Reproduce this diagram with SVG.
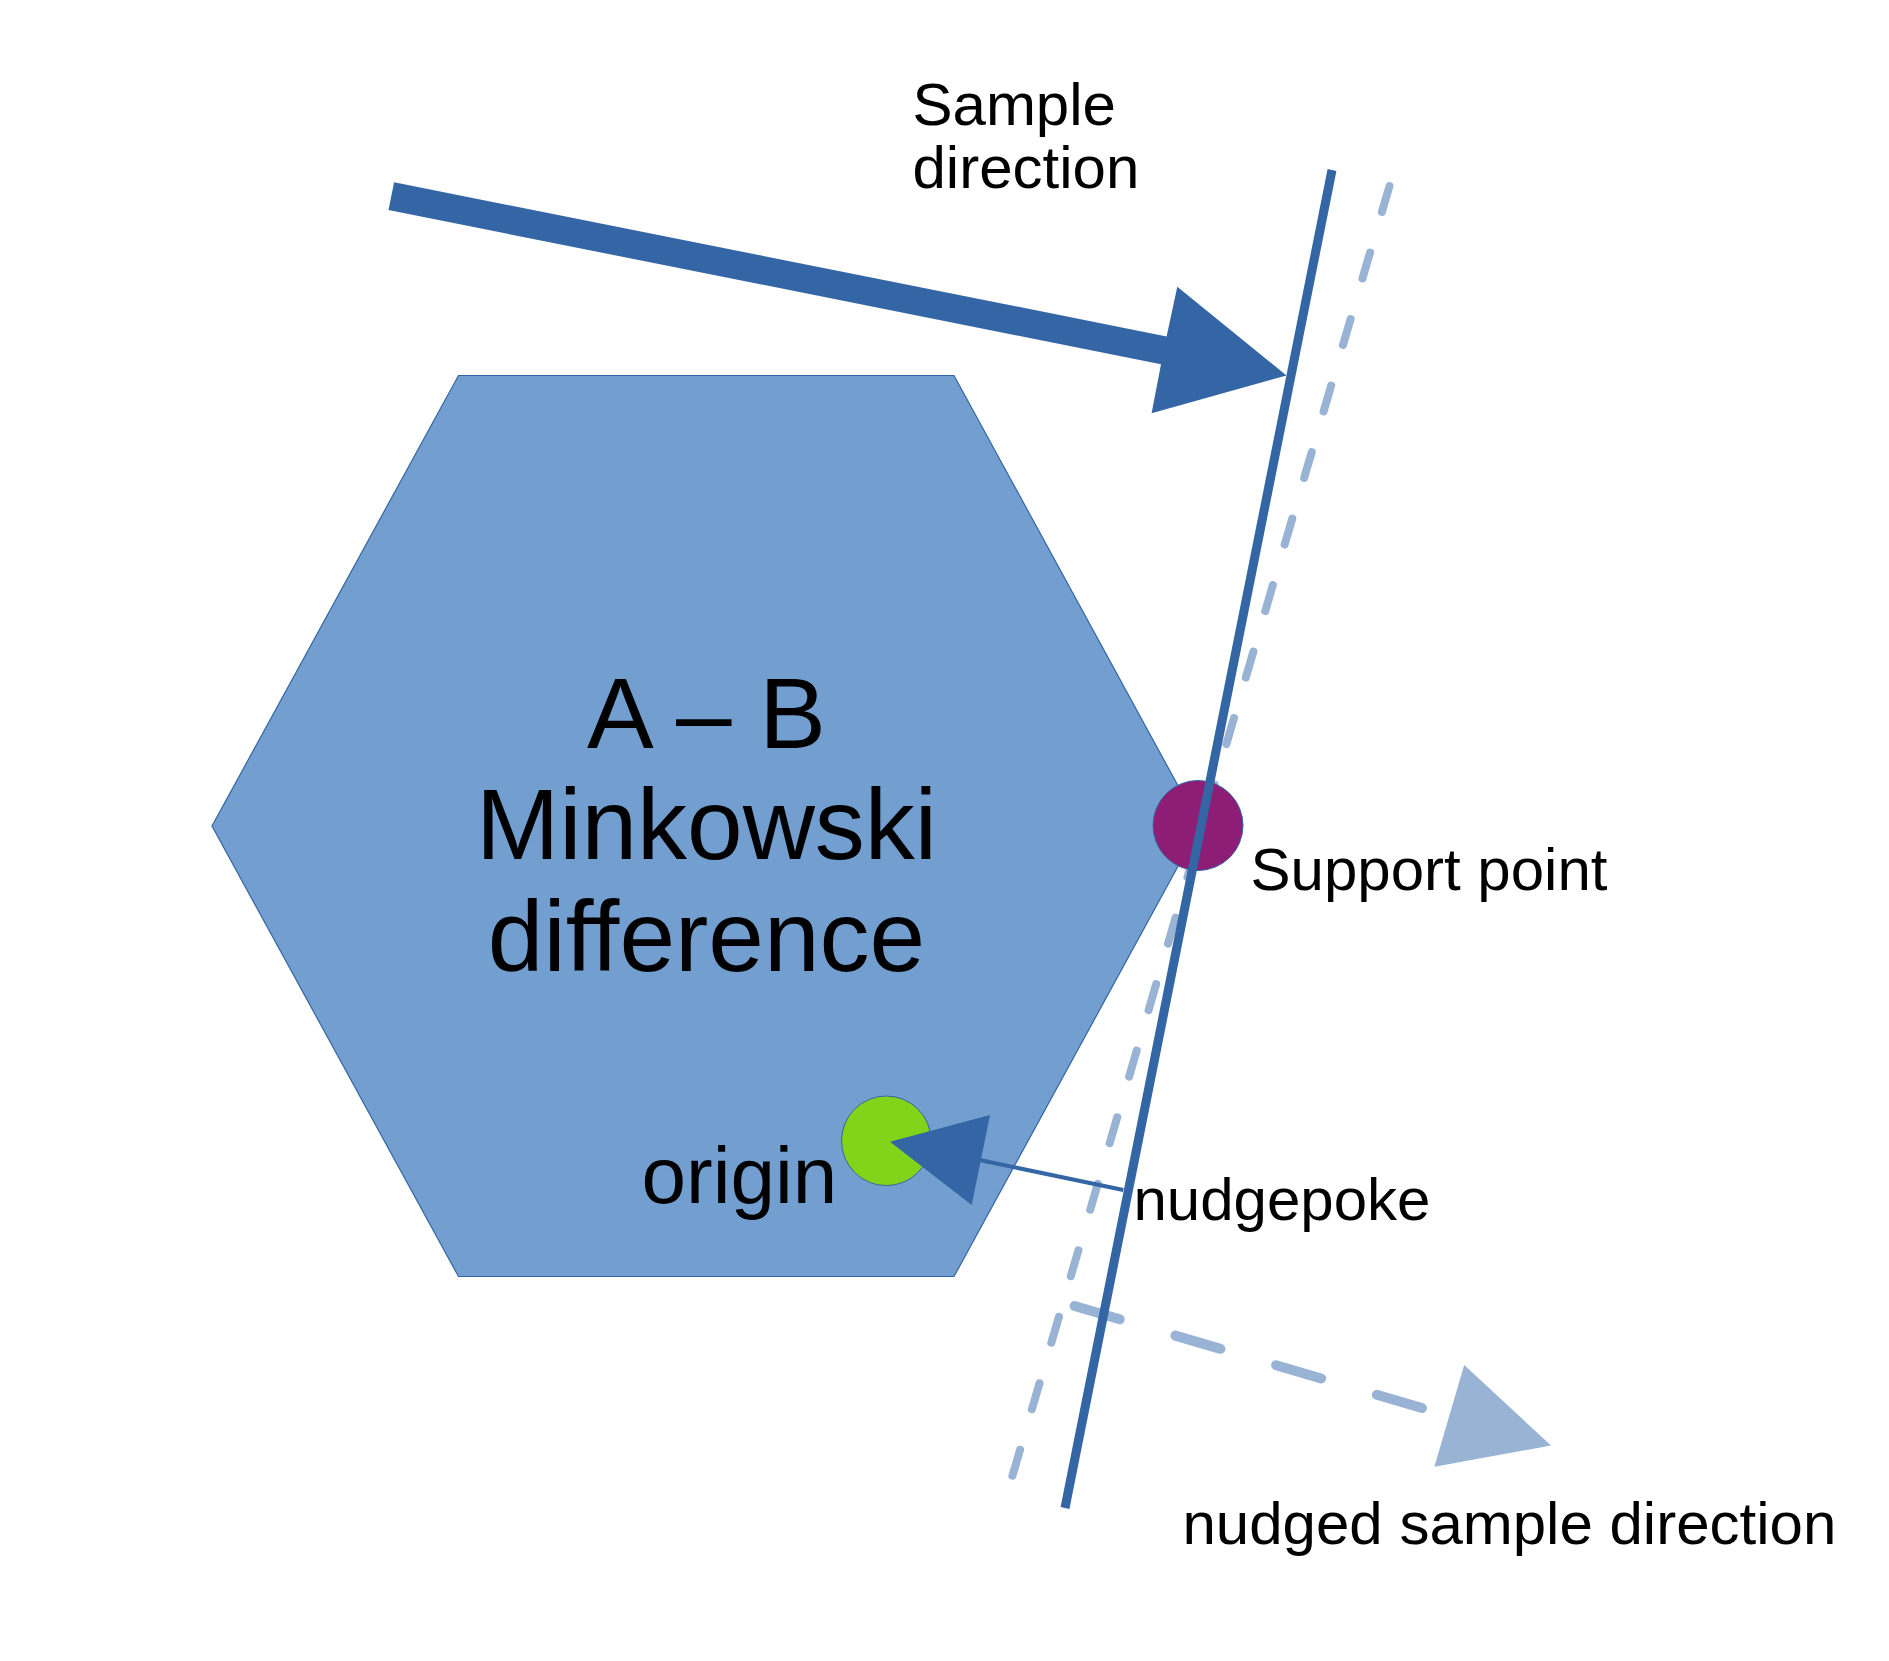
<svg xmlns="http://www.w3.org/2000/svg" width="1889" height="1661" viewBox="0 0 1889 1661">
<style>
.lbl{font-family:"Liberation Sans",Arial,sans-serif;fill:#000;}
.s58{font-size:60px;}
.big{font-size:100px;text-anchor:middle;}
.dash{fill:none;stroke:#99b3d5;stroke-linecap:round;}
.solid{fill:none;stroke:#3465a4;}
</style>
<rect width="1889" height="1661" fill="#ffffff"/>
<g id="hexagon">
<polygon points="458.5,375.5 954,375.5 1200,826 954,1276.5 458.5,1276.5 212,826" fill="#729fcf" stroke="#3465a4" stroke-width="1.2"/>
<text class="lbl big" x="706.5" y="747.7">A – B</text>
<text class="lbl big" x="706.5" y="859.3">Minkowski</text>
<text class="lbl big" x="706.5" y="970.7">difference</text>
</g>
<g id="connectors">
<polygon id="sample-arrow" points="394.1,182.3 1166.6,336.4 1177.3,286.7 1286.5,375.5 1151.6,413.3 1161,364.2 388.5,210.1" fill="#3465a4"/>
<line id="nudged-line" class="dash" x1="1389.5" y1="186" x2="1011.8" y2="1478" stroke-width="8" stroke-dasharray="27 42.3"/>
</g>
<g id="support-point">
<circle cx="1198" cy="825.5" r="45" fill="#8d1d75" stroke="#3465a4" stroke-width="1"/>
<text class="lbl s58" x="1250.5" y="890">Support point</text>
</g>
<g id="origin">
<circle cx="886.3" cy="1140.8" r="44.8" fill="#81d41a" stroke="#3465a4" stroke-width="1"/>
<text class="lbl" style="font-size:80px" x="641.6" y="1203.3">origin</text>
</g>
<g id="connectors2">
<line id="nudged-dir" class="dash" x1="1074.6" y1="1306" x2="1449" y2="1416" stroke-width="10" stroke-dasharray="47 58"/>
<polygon points="1464.2,1365 1551,1445.5 1434.4,1466.7" fill="#99b3d5"/>
<line id="support-plane" class="solid" x1="1332" y1="170" x2="1065" y2="1508" stroke-width="9"/>
<line class="solid" x1="1123.3" y1="1190" x2="980.8" y2="1160.3" stroke-width="4"/>
<polygon points="890,1141.7 990,1115 971.7,1205" fill="#3465a4"/>
</g>
<g id="labels">
<text class="lbl s58" x="912.5" y="125">Sample</text>
<text class="lbl s58" x="912.5" y="188.3">direction</text>
<text class="lbl s58" x="1133.5" y="1220">nudgepoke</text>
<text class="lbl s58" x="1182.5" y="1544">nudged sample direction</text>
</g>
</svg>
